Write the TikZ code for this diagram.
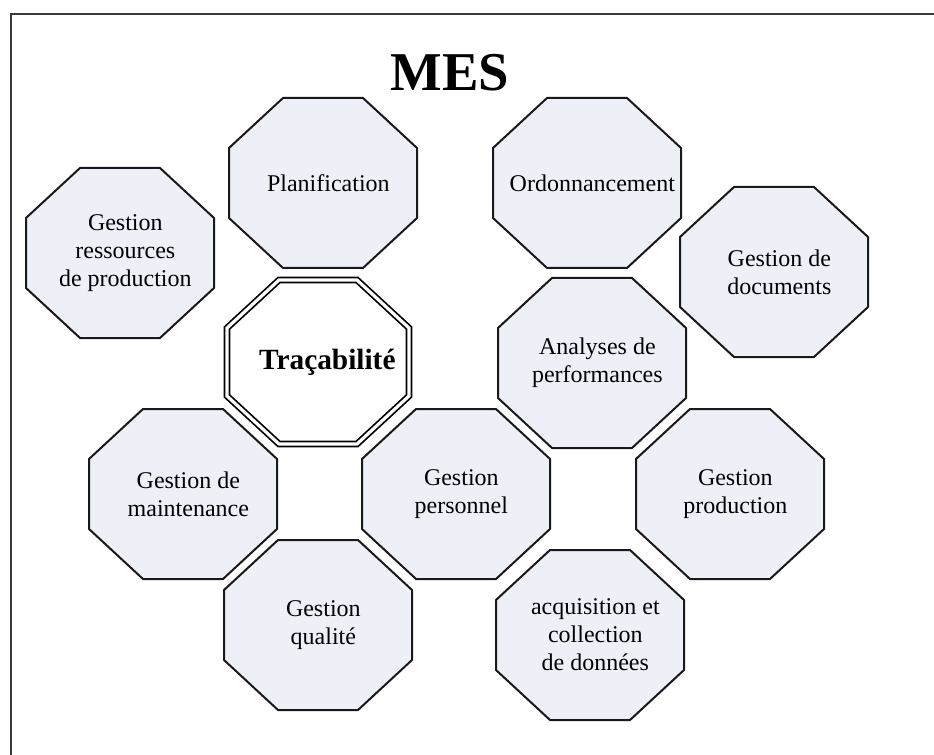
\documentclass[tikz,border=0pt]{standalone}
\usepackage{fontspec}
\setmainfont{Liberation Serif}
\usetikzlibrary{positioning}
\definecolor{octfill}{HTML}{EEF0F8}
\definecolor{framegray}{HTML}{3A3A3A}

% octagon box: name, x, y, text
\newcommand{\octbox}[4]{%
  \filldraw[octline] (#2,#3) ++(-40,-85) -- ++(80,0) -- ++(54,50) -- ++(0,70)
    -- ++(-54,50) -- ++(-80,0) -- ++(-54,-50) -- ++(0,-70) -- cycle;
  \node[octtext] (#1) at (#2,#3) {#4};}

\begin{document}
\begin{tikzpicture}[
  x=0.75pt, y=-0.75pt,
  octline/.style={draw=black!90, fill=octfill, line width=1.5pt},
  octtext/.style={align=center, xshift=4pt, font=\fontsize{18}{21}\selectfont},
  mainline/.style={draw=black, fill=white, line width=1.3pt, double=white, double distance=2.4pt},
]
  \useasboundingbox (0,0) rectangle (934,755);
  \draw[framegray, line width=1.8pt] (11,800) -- (11,14) -- (960,14);

  \node[font=\fontsize{41}{41}\selectfont\bfseries] (title) at (450,73) {MES};

  \octbox{ress}{120}{253}{Gestion\\ressources\\de production}
  \octbox{plan}{323}{183}{Planification}
  \octbox{ordo}{587}{183}{Ordonnancement}
  \octbox{docs}{774}{272}{Gestion de\\documents}
  \octbox{perf}{592}{363}{Analyses de\\performances}
  \octbox{maint}{183}{494}{Gestion de\\maintenance}
  \octbox{pers}{456}{494}{Gestion\\personnel}
  \octbox{prod}{730}{494}{Gestion\\production}
  \octbox{qual}{318}{625}{Gestion\\qualit\'e}
  \octbox{acq}{590}{635}{acquisition et\\collection\\de donn\'ees}

  % central box
  \draw[mainline] (318,362) ++(-39,-82) -- ++(78,0) -- ++(52,48) -- ++(0,68)
    -- ++(-52,48) -- ++(-78,0) -- ++(-52,-48) -- ++(0,-68) -- cycle;
  \node[font=\fontsize{22}{24}\selectfont\bfseries, xshift=7pt] (trac) at (318,362) {Traçabilité};
\end{tikzpicture}
\end{document}
